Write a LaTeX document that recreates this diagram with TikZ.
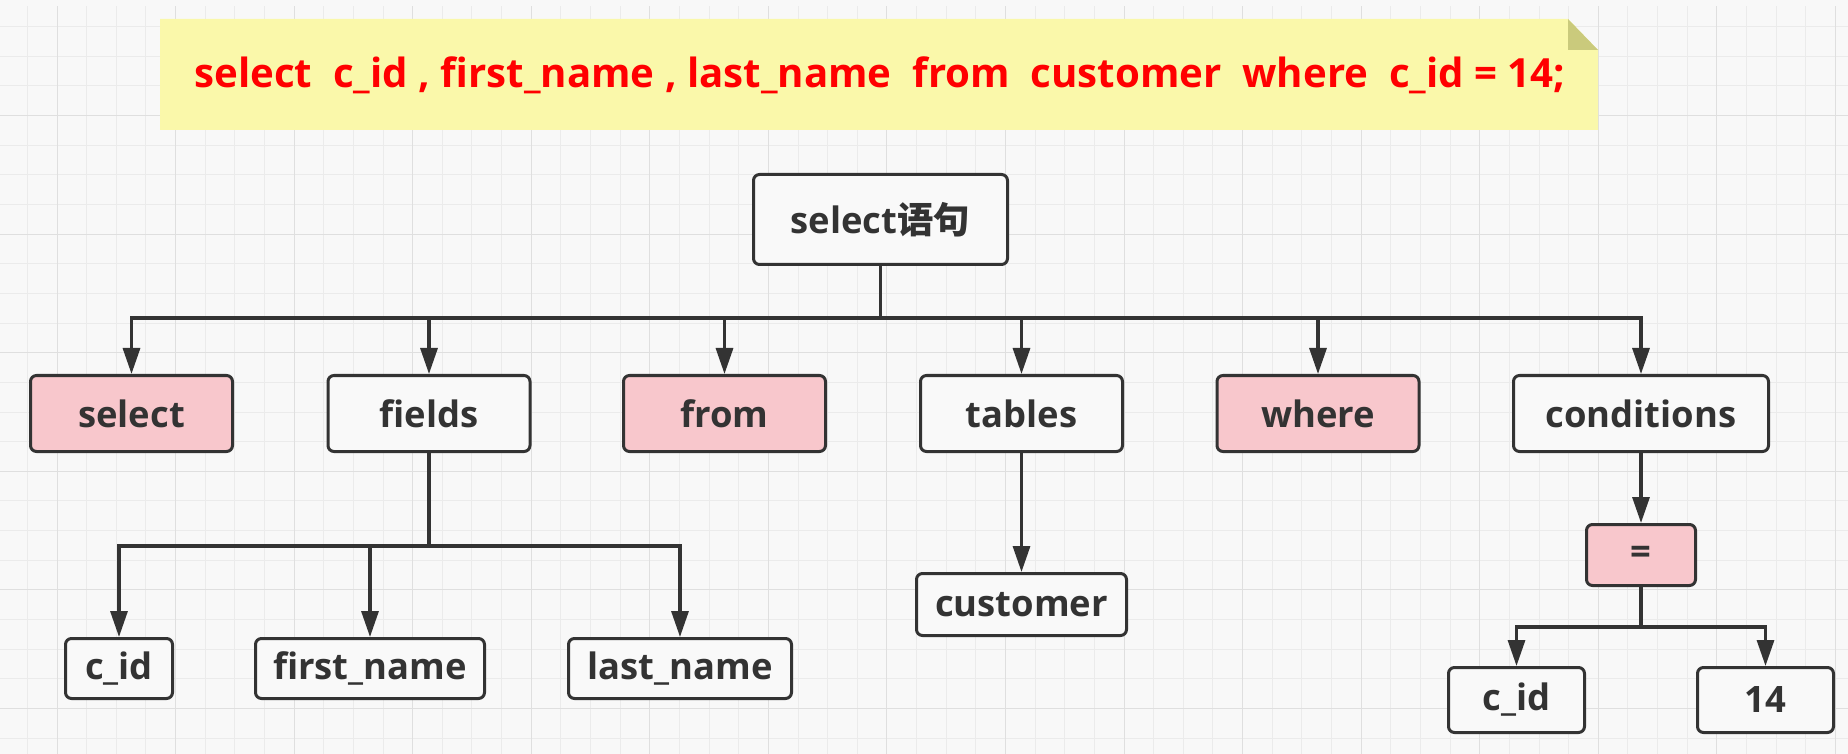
\documentclass[tikz,border=0pt]{standalone}
\usepackage{fontspec}
\setmainfont{Open Sans}
\newfontfamily\cjk{Noto Sans CJK SC}
\usetikzlibrary{arrows.meta}
\definecolor{bg}{HTML}{F8F8F8}
\definecolor{gridminor}{HTML}{EBEBEB}
\definecolor{gridmajor}{HTML}{DFDFDF}
\definecolor{ink}{HTML}{333333}
\definecolor{pinkfill}{HTML}{F8C7CC}
\definecolor{whitefill}{HTML}{F9F9F9}
\definecolor{notefill}{HTML}{FAF8AA}
\definecolor{foldfill}{HTML}{CACA7C}
\definecolor{sqlred}{HTML}{FF0000}
\begin{document}
\begin{tikzpicture}[x=0.5pt,y=-0.5pt,
  box/.style={draw=ink, line width=1.5pt, rounded corners=3pt, fill=whitefill,
    text=ink, font=\bfseries\fontsize{18.2}{21}\selectfont, inner sep=0pt},
  kw/.style={box, fill=pinkfill},
  arr/.style={draw=ink, line width=1.6pt, -{Triangle[length=13pt,width=8.5pt]}},
  conn/.style={draw=ink, line width=1.6pt}]
\useasboundingbox (0,0) rectangle (1848,754);
\fill[bg] (0,0) rectangle (1848,754);
% grid
\begin{scope}
\clip (0,7) rectangle (1848,754);
\foreach \i in {0,...,63} \draw[gridminor, line width=0.5pt] ({-2.28+29.64*\i},0) -- ({-2.28+29.64*\i},754);
\foreach \i in {0,...,25} \draw[gridminor, line width=0.5pt] (0,{-2.94+29.64*\i}) -- (1848,{-2.94+29.64*\i});
\foreach \i in {0,...,15} \draw[gridmajor, line width=0.5pt] ({57+118.56*\i},0) -- ({57+118.56*\i},754);
\foreach \i in {0,...,5} \draw[gridmajor, line width=0.5pt] (0,{115.6+118.56*\i}) -- (1848,{115.6+118.56*\i});
\end{scope}
% note
\fill[notefill] (160,19) -- (1568,19) -- (1598,50) -- (1598,130) -- (160,130) -- cycle;
\fill[foldfill] (1568,19) -- (1568,50) -- (1598,50) -- cycle;
\node[text=sqlred, font=\bfseries\fontsize{20.1}{24}\selectfont, inner sep=0pt] (sql) at (880,75)
  {select\ \ c\_id , first\_name , last\_name\ \ from\ \ customer\ \ where\ \ c\_id = 14;};
% nodes
\node[box, minimum width=127pt, minimum height=45pt] (root) at (880.5,219.5) {select{\cjk 语句}};
\node[kw,  minimum width=101pt, minimum height=38pt] (select) at (131.5,413.5) {select};
\node[box, minimum width=101pt, minimum height=38pt] (fields) at (429,413.5) {fields};
\node[kw,  minimum width=101pt, minimum height=38pt] (from) at (724.5,413.5) {from};
\node[box, minimum width=101pt, minimum height=38pt] (tables) at (1021.5,413.5) {tables};
\node[kw,  minimum width=101pt, minimum height=38pt] (where) at (1318,413.5) {where};
\node[box, minimum width=127.5pt, minimum height=38pt] (conditions) at (1641,413.5) {conditions};
\node[box, minimum width=53.5pt, minimum height=30pt] (cid) at (119,668.5) {c\_id};
\node[box, minimum width=114.5pt, minimum height=30pt] (first) at (370,668.5) {first\_name};
\node[box, minimum width=111.5pt, minimum height=30pt] (last) at (680,668.5) {last\_name};
\node[box, minimum width=105pt, minimum height=31pt] (customer) at (1021.5,604.5) {customer};
\node[kw,  minimum width=54.5pt, minimum height=30.5pt] (eq) at (1641,555) {=};
\node[box, minimum width=68pt, minimum height=32.5pt] (cid2) at (1516.5,700) {c\_id};
\node[box, minimum width=68pt, minimum height=32.5pt] (n14) at (1765.5,700) {14};
% connectors
\coordinate (bus) at (880.5,318);
\draw[conn] (root.south) -- (bus);
\foreach \t in {select,fields,from,tables,where,conditions}
  \draw[arr] (bus) -| (\t.north);
\coordinate (fbus) at (429,546);
\draw[conn] (fields.south) -- (fbus);
\foreach \t in {cid,first,last}
  \draw[arr] (fbus) -| (\t.north);
\draw[arr] (tables.south) -- (customer.north);
\draw[arr] (conditions.south) -- (eq.north);
\coordinate (ebus) at (1641,627);
\draw[conn] (eq.south) -- (ebus);
\draw[arr] (ebus) -| (cid2.north);
\draw[arr] (ebus) -| (n14.north);
\end{tikzpicture}
\end{document}
